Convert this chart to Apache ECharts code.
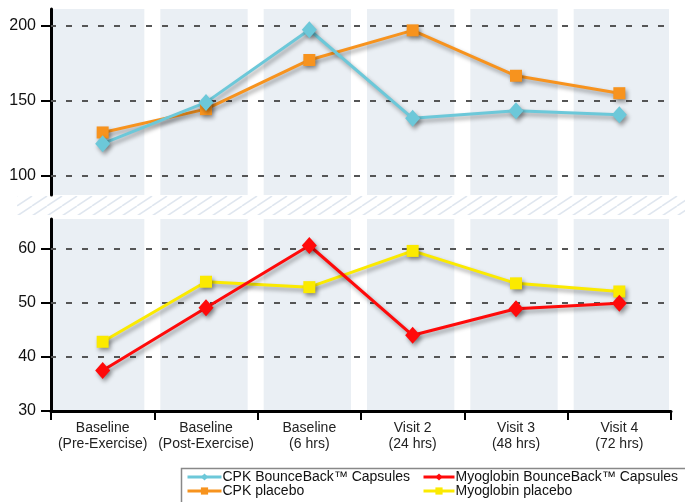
<!DOCTYPE html>
<html>
<head>
<meta charset="utf-8">
<script src="https://cdn.jsdelivr.net/npm/echarts@6/dist/echarts.min.js"></script>
<style>
  html, body { margin: 0; padding: 0; background: #fff; }
  #chart { width: 685px; height: 502px; }
</style>
</head>
<body>
<div id="chart"></div>
<script>
// Visit labels shared by both panels
const categories = [
  'Baseline\n(Pre-Exercise)',
  'Baseline\n(Post-Exercise)',
  'Baseline\n(6 hrs)',
  'Visit 2\n(24 hrs)',
  'Visit 3\n(48 hrs)',
  'Visit 4\n(72 hrs)'
];

// CPK (upper panel)
const cpkBounceBack = [121.5, 149.0, 197.3, 138.4, 143.5, 140.8];
const cpkPlacebo = [129.0, 144.5, 177.2, 196.9, 166.7, 155.1];

// Myoglobin (lower panel)
const myoBounceBack = [37.5, 49.1, 60.6, 44.0, 48.9, 49.9];
const myoPlacebo = [42.8, 53.9, 52.9, 59.6, 53.6, 52.1];

// Axis ranges and tick labels
const cpkRange = [87.4, 211.1];
const cpkTicks = [100, 150, 200];
const myoRange = [30, 65.5];
const myoTicks = [30, 40, 50, 60];
const myoGridLines = [40, 50, 60];

const names = {
  cpkBB: 'CPK BounceBack™ Capsules',
  cpkPl: 'CPK placebo',
  myoBB: 'Myoglobin BounceBack™ Capsules',
  myoPl: 'Myoglobin placebo'
};

const colors = {
  cyan: '#6cc8d9',
  orange: '#f7931e',
  red: '#ff0a0a',
  yellow: '#fbea00',
  band: '#eaeff4'
};

const labelFont = '"Liberation Sans", Arial, sans-serif';

// Diagonal hatch tile for the axis break between the panels
function hatchTile() {
  const c = document.createElement('canvas');
  c.width = 15; c.height = 10;
  const ctx = c.getContext('2d');
  ctx.strokeStyle = '#dfe6ef';
  ctx.lineWidth = 1.5;
  for (let k = -1; k <= 1; k++) {
    ctx.beginPath();
    ctx.moveTo(k * 15, 10);
    ctx.lineTo(k * 15 + 15, 0);
    ctx.stroke();
  }
  return c;
}

// Shaded column behind each visit, with a white gap at each boundary
function bandItem(params, api) {
  const idx = api.value(0);
  const cx = api.coord([idx, 0])[0];
  const w = api.size([1, 0])[0];
  const cs = params.coordSys;
  const n = categories.length;
  const x0 = idx === 0 ? cs.x + 2 : cx - w / 2 + 6;
  const x1 = idx === n - 1 ? cs.x + cs.width - 2 : cx + w / 2 - 10;
  return {
    type: 'rect',
    shape: { x: x0, y: cs.y, width: x1 - x0, height: cs.height },
    style: { fill: colors.band }
  };
}

const shadow = {
  shadowColor: 'rgba(0,0,0,0.38)',
  shadowBlur: 4,
  shadowOffsetX: 2,
  shadowOffsetY: 3
};

function lineSeries(name, data, gridIdx, color, symbol, size) {
  return {
    name: name,
    type: 'line',
    xAxisIndex: gridIdx,
    yAxisIndex: gridIdx,
    data: data,
    symbol: symbol,
    symbolSize: size,
    z: 3,
    lineStyle: Object.assign({ color: color, width: 3 }, shadow),
    itemStyle: Object.assign({ color: color }, shadow),
    emphasis: { disabled: true }
  };
}

function dashLines(values) {
  return {
    silent: true,
    symbol: 'none',
    z: 1,
    label: { show: false },
    lineStyle: { color: '#555', width: 2, type: [6, 10], dashOffset: -15 },
    emphasis: { disabled: true },
    data: values.map(v => ({ yAxis: v }))
  };
}

const bandData = categories.map(c => [c]);

const yAxisBase = {
  type: 'value',
  axisLine: { show: true, lineStyle: { color: '#000', width: 3 } },
  axisTick: { show: true, length: 10, lineStyle: { color: '#000', width: 2 } },
  splitLine: { show: false },
  axisLabel: {
    margin: 15,
    fontFamily: labelFont,
    fontSize: 16,
    color: '#111'
  }
};

const legendBase = {
  orient: 'vertical', top: 470, padding: 0, itemGap: 0,
  itemHeight: 9,
  selectedMode: false,
  lineStyle: { width: 3, shadowBlur: 0, shadowOffsetX: 0, shadowOffsetY: 0 },
  itemStyle: { shadowBlur: 0, shadowOffsetX: 0, shadowOffsetY: 0 },
  textStyle: { fontFamily: labelFont, fontSize: 14, lineHeight: 14, color: '#111', padding: [0, 0, 0, -4] }
};

const option = {
  animation: false,
  backgroundColor: '#fff',
  grid: [
    { left: 51, right: 14, top: 9, height: 186 },
    { left: 51, right: 14, top: 219, height: 192 }
  ],
  xAxis: [
    { type: 'category', gridIndex: 0, data: categories, show: false },
    {
      type: 'category', gridIndex: 1, data: categories,
      axisLine: { show: true, lineStyle: { color: '#000', width: 3 } },
      axisTick: { show: true, length: 9, lineStyle: { color: '#000', width: 2 } },
      axisLabel: {
        margin: 9,
        fontFamily: labelFont,
        fontSize: 14,
        lineHeight: 16,
        color: '#222',
        interval: 0
      }
    }
  ],
  yAxis: [
    Object.assign({}, yAxisBase, {
      gridIndex: 0, min: cpkRange[0], max: cpkRange[1],
      axisTick: Object.assign({}, yAxisBase.axisTick, { customValues: cpkTicks }),
      axisLabel: Object.assign({}, yAxisBase.axisLabel, { customValues: cpkTicks })
    }),
    Object.assign({}, yAxisBase, {
      gridIndex: 1, min: myoRange[0], max: myoRange[1],
      axisTick: Object.assign({}, yAxisBase.axisTick, { customValues: myoTicks }),
      axisLabel: Object.assign({}, yAxisBase.axisLabel, { customValues: myoTicks })
    })
  ],
  legend: [
    Object.assign({}, legendBase, { left: 186, itemWidth: 34, data: [names.cpkBB, names.cpkPl] }),
    Object.assign({}, legendBase, { left: 422, itemWidth: 31, data: [names.myoBB, names.myoPl] })
  ],
  graphic: [
    {
      type: 'rect',
      left: 17, top: 196,
      shape: { width: 668, height: 19 },
      style: { fill: { image: hatchTile(), repeat: 'repeat' } },
      silent: true,
      z: 0
    },
    {
      type: 'rect',
      left: 179, top: 466,
      shape: { width: 520, height: 60 },
      style: { fill: 'none', stroke: '#888', lineWidth: 1.5 },
      silent: true,
      z: 0
    }
  ],
  series: [
    {
      type: 'custom', xAxisIndex: 0, yAxisIndex: 0, z: 0, silent: true,
      renderItem: bandItem, encode: { x: 0 }, data: bandData,
      markLine: dashLines(cpkTicks)
    },
    {
      type: 'custom', xAxisIndex: 1, yAxisIndex: 1, z: 0, silent: true,
      renderItem: bandItem, encode: { x: 0 }, data: bandData,
      markLine: dashLines(myoGridLines)
    },
    lineSeries(names.cpkPl, cpkPlacebo, 0, colors.orange, 'rect', 12),
    lineSeries(names.cpkBB, cpkBounceBack, 0, colors.cyan, 'diamond', [15, 17]),
    lineSeries(names.myoPl, myoPlacebo, 1, colors.yellow, 'rect', 12),
    lineSeries(names.myoBB, myoBounceBack, 1, colors.red, 'diamond', [15, 17])
  ]
};

const chart = echarts.init(document.getElementById('chart'), null, { renderer: 'canvas' });
chart.setOption(option);
</script>
</body>
</html>
